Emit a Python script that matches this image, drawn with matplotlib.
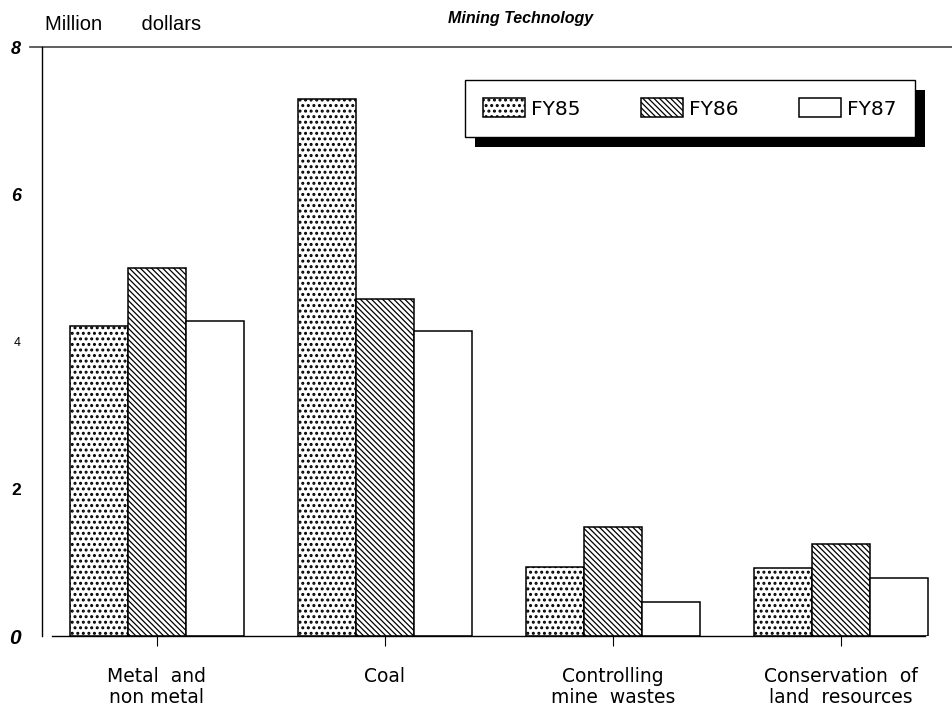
import numpy as np
import matplotlib
matplotlib.use("Agg")
import matplotlib.pyplot as plt
from matplotlib.patches import Rectangle

plt.rcParams["font.family"] = ["Liberation Sans", "DejaVu Sans"]

# Data (million dollars)
categories = ["Metal  and\nnon metal", "Coal", "Controlling\nmine  wastes",
              "Conservation  of\nland  resources"]
series = ["FY85", "FY86", "FY87"]
fy85 = [4.21, 7.30, 0.94, 0.92]
fy86 = [5.00, 4.58, 1.48, 1.25]
fy87 = [4.28, 4.14, 0.46, 0.79]
yticks = [0, 2, 4, 6, 8]

fig = plt.figure(figsize=(9.52, 7.15), dpi=100)
ax = fig.add_axes([42 / 952, 1 - 636 / 715, 1 - 42 / 952, (636 - 47) / 715])

x = np.arange(len(categories))
w = 0.254
hatches = ["...", "\\" * 6, ""]
hlw = [1.4, 0.9, 0.9]
bars = []
for i, vals in enumerate([fy85, fy86, fy87]):
    with plt.rc_context({"hatch.linewidth": hlw[i]}):
        b = ax.bar(x + (i - 1) * w, vals, w, color="white", edgecolor="black",
                   hatch=hatches[i], linewidth=1.1, label=series[i], zorder=2)
    bars.append(b)

ax.set_xlim(-0.504, 3.487)
ax.set_ylim(0, 8)

# baseline and top rule
ax.plot([-0.46, 3.37], [0, 0], color="black", lw=1.0, clip_on=False, zorder=3)
ax.plot([-0.555, 3.487], [8, 8], color="#444444", lw=1.2, clip_on=False)

for s in ["top", "right", "bottom"]:
    ax.spines[s].set_visible(False)
ax.spines["left"].set_linewidth(1.0)

ax.set_yticks(yticks)
ax.set_yticklabels([str(v) for v in yticks])
ax.tick_params(axis="y", length=0, pad=15)
styles = {0: ("italic", "bold", 15), 2: ("normal", "bold", 12.5),
          4: ("normal", "normal", 9), 6: ("italic", "bold", 13),
          8: ("italic", "bold", 13)}
for lab, v in zip(ax.get_yticklabels(), yticks):
    st, wt, fs = styles[v]
    lab.set_fontstyle(st)
    lab.set_fontweight(wt)
    lab.set_fontsize(fs)

ax.set_xticks(x)
ax.set_xticklabels(categories, fontsize=13.5, linespacing=1.15,
                   family=["DejaVu Sans"])
ax.tick_params(axis="x", length=7, width=0.8, pad=15, direction="out")

fig.text(45 / 952, 1 - 25 / 715, "Million       dollars", fontsize=14.5,
         va="center", ha="left")
fig.text(521 / 952, 1 - 18 / 715, "Mining Technology", fontsize=11.5,
         fontweight="bold", fontstyle="italic", ha="center", va="center")

# legend with heavy drop shadow
leg = fig.legend(handles=bars, labels=series, loc="upper left",
                 bbox_to_anchor=(465 / 952, 1 - 80 / 715, (915 - 465) / 952, 0),
                 mode="expand", ncol=3, frameon=True, framealpha=1,
                 prop={"family": "DejaVu Sans", "size": 14.5},
                 fancybox=False, edgecolor="black", borderaxespad=0,
                 handlelength=2.1, handleheight=1.1, handletextpad=0.3,
                 columnspacing=1.5, borderpad=0.9)
leg.get_frame().set_linewidth(1.0)
leg.set_zorder(5)
for hnd, lw in zip(leg.legend_handles, hlw):
    if hasattr(hnd, "set_hatch_linewidth"):
        hnd.set_hatch_linewidth(lw)

fig.canvas.draw()
bb = leg.get_window_extent()
W, H = fig.bbox.width, fig.bbox.height
shadow = Rectangle(((bb.x0 + 10) / W, (bb.y0 - 10) / H), bb.width / W,
                   bb.height / H, transform=fig.transFigure,
                   facecolor="black", edgecolor="none", zorder=4)
fig.patches.append(shadow)

fig.savefig("out.png", dpi=100)
